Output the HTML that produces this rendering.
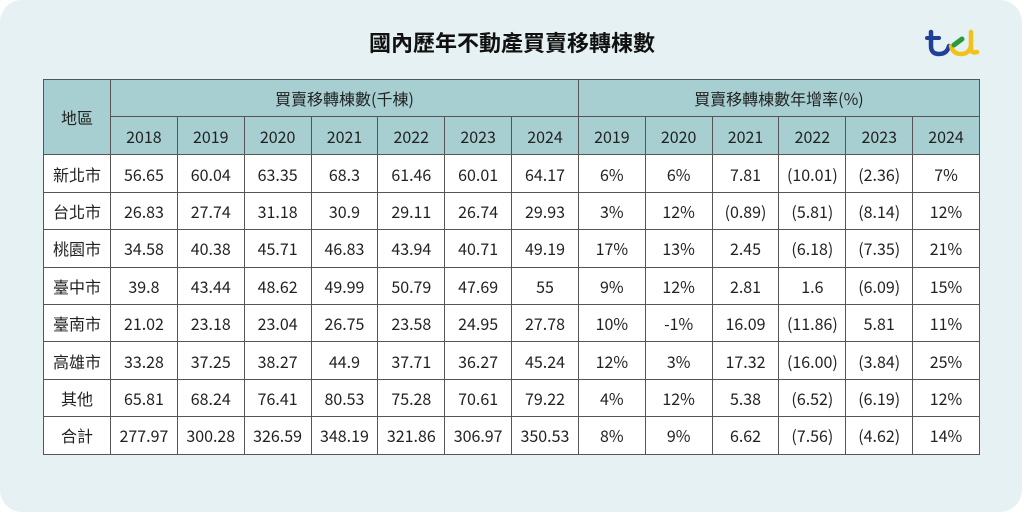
<!DOCTYPE html>
<html><head><meta charset="utf-8"><style>
html,body{margin:0;padding:0;background:#fff;}
body{width:1024px;height:514px;position:relative;overflow:hidden;font-family:"Noto Sans CJK TC",sans-serif;}
.card{position:absolute;left:0;top:0;width:1022px;height:512px;background:#e6f1f3;border-radius:22px;}
.title{position:absolute;left:0;width:1024px;top:28px;text-align:center;font-size:22px;font-weight:bold;color:#111;line-height:28px;font-family:"Noto Sans CJK TC",sans-serif;}
table{position:absolute;left:43px;top:79px;border-collapse:collapse;table-layout:fixed;}
td{border:1px solid #555;text-align:center;font-size:16px;color:#222;padding:0;height:36.4px;line-height:20px;font-family:"Noto Sans CJK TC",sans-serif;background:#fff;}
tr.h td{background:#a7cfd1;}
tr.h2 td{height:37px;}
</style></head><body>
<div class="card"></div>
<div class="title">國內歷年不動產買賣移轉棟數</div>
<svg style="position:absolute;left:925px;top:28px" width="56" height="32" viewBox="0 0 56 32">
<path d="M6 4 V18 Q6 26 14 26 Q22 26 24 18" stroke="#1f3f99" stroke-width="4.5" fill="none" stroke-linecap="round"/>
<path d="M2 10 H14" stroke="#1f3f99" stroke-width="4" stroke-linecap="round"/>
<path d="M26 18 Q28 26 36 26 Q44 26 46 18" stroke="#f1c21b" stroke-width="4.5" fill="none" stroke-linecap="round"/>
<path d="M46 4 V20 Q46 26 52 24" stroke="#f1c21b" stroke-width="4.5" fill="none" stroke-linecap="round"/>
<path d="M29 17 L37 11" stroke="#2a9a3a" stroke-width="5" stroke-linecap="round"/>
</svg>
<table>
<colgroup><col style="width:67px"><col span="13" style="width:66.85px"></colgroup>
<tr class="h"><td rowspan="2">地區</td><td colspan="7">買賣移轉棟數(千棟)</td><td colspan="6">買賣移轉棟數年增率(%)</td></tr>
<tr class="h h2"><td>2018</td><td>2019</td><td>2020</td><td>2021</td><td>2022</td><td>2023</td><td>2024</td><td>2019</td><td>2020</td><td>2021</td><td>2022</td><td>2023</td><td>2024</td></tr>
<tr><td>新北市</td><td>56.65</td><td>60.04</td><td>63.35</td><td>68.3</td><td>61.46</td><td>60.01</td><td>64.17</td><td>6%</td><td>6%</td><td>7.81</td><td>(10.01)</td><td>(2.36)</td><td>7%</td></tr>
<tr><td>台北市</td><td>26.83</td><td>27.74</td><td>31.18</td><td>30.9</td><td>29.11</td><td>26.74</td><td>29.93</td><td>3%</td><td>12%</td><td>(0.89)</td><td>(5.81)</td><td>(8.14)</td><td>12%</td></tr>
<tr><td>桃園市</td><td>34.58</td><td>40.38</td><td>45.71</td><td>46.83</td><td>43.94</td><td>40.71</td><td>49.19</td><td>17%</td><td>13%</td><td>2.45</td><td>(6.18)</td><td>(7.35)</td><td>21%</td></tr>
<tr><td>臺中市</td><td>39.8</td><td>43.44</td><td>48.62</td><td>49.99</td><td>50.79</td><td>47.69</td><td>55</td><td>9%</td><td>12%</td><td>2.81</td><td>1.6</td><td>(6.09)</td><td>15%</td></tr>
<tr><td>臺南市</td><td>21.02</td><td>23.18</td><td>23.04</td><td>26.75</td><td>23.58</td><td>24.95</td><td>27.78</td><td>10%</td><td>-1%</td><td>16.09</td><td>(11.86)</td><td>5.81</td><td>11%</td></tr>
<tr><td>高雄市</td><td>33.28</td><td>37.25</td><td>38.27</td><td>44.9</td><td>37.71</td><td>36.27</td><td>45.24</td><td>12%</td><td>3%</td><td>17.32</td><td>(16.00)</td><td>(3.84)</td><td>25%</td></tr>
<tr><td>其他</td><td>65.81</td><td>68.24</td><td>76.41</td><td>80.53</td><td>75.28</td><td>70.61</td><td>79.22</td><td>4%</td><td>12%</td><td>5.38</td><td>(6.52)</td><td>(6.19)</td><td>12%</td></tr>
<tr><td>合計</td><td>277.97</td><td>300.28</td><td>326.59</td><td>348.19</td><td>321.86</td><td>306.97</td><td>350.53</td><td>8%</td><td>9%</td><td>6.62</td><td>(7.56)</td><td>(4.62)</td><td>14%</td></tr>
</table>
</body></html>
